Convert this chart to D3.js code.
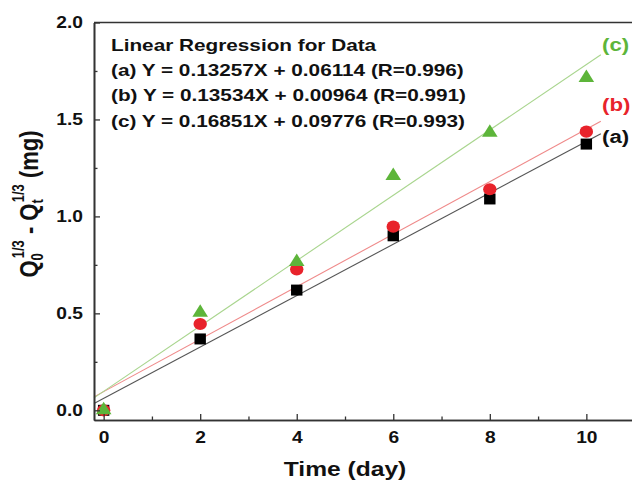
<!DOCTYPE html>
<html>
<head>
<meta charset="utf-8">
<script src="https://cdn.jsdelivr.net/npm/d3@7"></script>
<style>
  body { margin: 0; background: #fff; }
  svg { display: block; font-family: "Liberation Sans", Arial, sans-serif; font-weight: bold; }
</style>
</head>
<body>
<script>
// days of measurement
var days = [0, 2, 4, 6, 8, 10];
// Q0^1/3 - Qt^1/3 values
var seriesA = [0.00, 0.368, 0.620, 0.900, 1.090, 1.373];
var seriesB = [0.00, 0.445, 0.727, 0.947, 1.140, 1.437];
var seriesC = [0.01, 0.514, 0.775, 1.219, 1.442, 1.724];
// fitted lines (slope, intercept as drawn)
var slopes = [0.13257, 0.13534, 0.16851];
var intercepts = [0.06114, 0.0964, 0.09776];
var seriesNames = ["(a)", "(b)", "(c)"];
var legendLines = [
  "Linear Regression for Data",
  "(a) Y = 0.13257X + 0.06114 (R=0.996)",
  "(b) Y = 0.13534X + 0.00964 (R=0.991)",
  "(c) Y = 0.16851X + 0.09776 (R=0.993)"
];
var xTicks = [0, 2, 4, 6, 8, 10];
var yTicks = [0.0, 0.5, 1.0, 1.5, 2.0];

var w = 632, h = 482;
var sx = 1.2; // the figure is stretched horizontally

var markColors = ["#000000", "#e8232b", "#5db53a"];
var lineColors = ["#555555", "#ef8a8a", "#a9d58e"];

var svg = d3.select("body").append("svg").attr("width", w).attr("height", h);

var x = d3.scaleLinear().domain([-0.2, 11.2]).range([94, 94 + 11.4 * 48.27]);
var y = d3.scaleLinear().domain([-0.05, 2.0]).range([420, 22.5]);

function addText(g, px, py, str, size, anchor, fill) {
  return g.append("text")
    .attr("transform", "translate(" + px + "," + py + ") scale(" + sx + ",1)")
    .attr("text-anchor", anchor)
    .attr("font-size", size)
    .attr("fill", fill || "#111")
    .text(str);
}

// fit lines
var fitG = svg.append("g");
slopes.forEach(function(s, i) {
  var xs = [-0.2, 10.3];
  fitG.append("line")
    .attr("x1", x(xs[0])).attr("y1", y(s * xs[0] + intercepts[i]))
    .attr("x2", x(xs[1])).attr("y2", y(s * xs[1] + intercepts[i]))
    .attr("stroke", lineColors[i]).attr("stroke-width", 1.1);
});

// markers
var markG = svg.append("g");
markG.selectAll("rect").data(seriesA).enter().append("rect")
  .attr("x", function(d, i) { return x(days[i]) - 5.7; })
  .attr("y", function(d) { return y(d) - 5.5; })
  .attr("width", 11.4).attr("height", 11)
  .attr("fill", markColors[0]);
markG.selectAll("ellipse").data(seriesB).enter().append("ellipse")
  .attr("cx", function(d, i) { return x(days[i]); })
  .attr("cy", function(d) { return y(d); })
  .attr("rx", 6.7).attr("ry", 6.1)
  .attr("fill", markColors[1]);
markG.selectAll("path").data(seriesC).enter().append("path")
  .attr("d", function(d, i) {
    var cx = x(days[i]), cy = y(d);
    return "M" + cx + "," + (cy - 6.5) + "L" + (cx + 7.8) + "," + (cy + 6) + "L" + (cx - 7.8) + "," + (cy + 6) + "Z";
  })
  .attr("fill", markColors[2]);

// axes: inward ticks
var axisColor = "#333";
var xAxis = d3.axisBottom(x).tickValues(xTicks).tickSizeInner(-6).tickSizeOuter(0).tickPadding(12).tickFormat(d3.format("d"));
var xMinor = d3.axisBottom(x).tickValues([1, 3, 5, 7, 9, 11]).tickSizeInner(-3.5).tickSizeOuter(0).tickFormat("");
var yAxis = d3.axisLeft(y).tickValues(yTicks).tickSizeInner(-6).tickSizeOuter(0).tickPadding(12).tickFormat(d3.format(".1f"));
var yMinor = d3.axisLeft(y).tickValues([0.25, 0.75, 1.25, 1.75]).tickSizeInner(-3.5).tickSizeOuter(0).tickFormat("");

var gx = svg.append("g").attr("transform", "translate(0,420)").call(xAxis);
svg.append("g").attr("transform", "translate(0,420)").call(xMinor);
var gy = svg.append("g").attr("transform", "translate(94,0)").call(yAxis);
svg.append("g").attr("transform", "translate(94,0)").call(yMinor);

svg.selectAll(".domain").attr("stroke", axisColor).attr("stroke-width", 1.6);
svg.selectAll(".tick line").attr("stroke", axisColor).attr("stroke-width", 1.3);

gx.selectAll(".tick text")
  .attr("font-size", 16).attr("font-family", null).attr("fill", "#111")
  .attr("dy", "0.71em")
  .attr("transform", "scale(" + sx + ",1)")
  .attr("x", 0);
gy.selectAll(".tick text")
  .attr("font-size", 16).attr("font-family", null).attr("fill", "#111")
  .attr("transform", "translate(-11,0) scale(" + sx + ",1)")
  .attr("x", 0);

// top border of the frame
svg.append("line")
  .attr("x1", x(-0.2)).attr("x2", w).attr("y1", y(2.0)).attr("y2", y(2.0))
  .attr("stroke", axisColor).attr("stroke-width", 1.6);

// legend block
var legG = svg.append("g");
legendLines.forEach(function(t, i) {
  addText(legG, 111, 51 + i * 25.2, t, 17.3, "start", "#111");
});

// series labels at end of lines
var labelPos = [143, 111, 51];
seriesNames.forEach(function(n, i) {
  addText(svg, 602, labelPos[i], n, 18.5, "start", i === 0 ? "#111" : markColors[i]);
});

// axis titles
addText(svg, 345, 476, "Time (day)", 20.5, "middle", "#111");

var yt = svg.append("text")
  .attr("transform", "translate(38,204) rotate(-90) scale(1," + sx + ")")
  .attr("text-anchor", "middle")
  .attr("font-size", 22)
  .attr("fill", "#111");
yt.append("tspan").text("Q");
yt.append("tspan").attr("font-size", 13).attr("dy", 4).text("0");
yt.append("tspan").attr("font-size", 13).attr("dx", -5).attr("dy", -16).text("1/3");
yt.append("tspan").attr("dy", 12).text(" - Q");
yt.append("tspan").attr("font-size", 13).attr("dy", 4).text("t");
yt.append("tspan").attr("font-size", 13).attr("dx", -3).attr("dy", -16).text("1/3");
yt.append("tspan").attr("dy", 12).text(" (mg)");
</script>
</body>
</html>
